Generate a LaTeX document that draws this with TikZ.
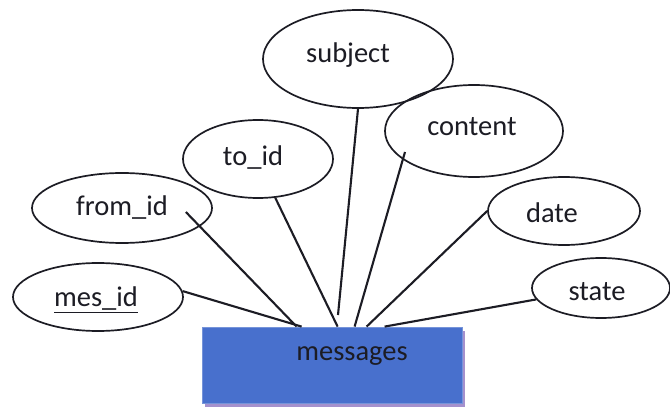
\documentclass[tikz,border=0pt]{standalone}
\usepackage{fontspec}
\setmainfont{Carlito}
\usetikzlibrary{shapes.geometric}
\definecolor{entblue}{RGB}{72,112,205}
\definecolor{entshadow}{RGB}{165,145,205}
\definecolor{ink}{RGB}{28,28,36}
\begin{document}
\begin{tikzpicture}[x=1pt,y=-1pt,
  attr/.style={draw=ink, line width=1.7pt, ellipse, inner sep=0pt},
  lbl/.style={font=\fontsize{28.5}{31}\selectfont, text=ink, inner sep=0pt},
  link/.style={draw=ink, line width=2.1pt},
  ent/.style={rectangle, fill=entblue, draw=entblue!75!white, line width=0.8pt, minimum width=260pt, minimum height=76pt, inner sep=0pt},
  entsh/.style={rectangle, fill=entshadow, minimum width=260pt, minimum height=76pt, inner sep=0pt}]
\useasboundingbox (0,0) rectangle (670,409);
\fill[white] (0,0) rectangle (670,409);
% entity
\node[entsh] (msgsh) at (335,369) {};
\node[ent] (msg) at (332,365) {};
\node[lbl] (msgtxt) at (352,356) {messages};
% attribute ellipses
\node[attr, minimum width=170pt, minimum height=68pt] (mes) at (98,297) {};
\node[attr, minimum width=180pt, minimum height=70pt] (from) at (122,208) {};
\node[attr, minimum width=150pt, minimum height=78pt] (to) at (258,159) {};
\node[attr, minimum width=190pt, minimum height=98pt] (subj) at (358,59) {};
\node[attr, minimum width=178pt, minimum height=92pt] (cont) at (474,131) {};
\node[attr, minimum width=152pt, minimum height=68pt] (date) at (564,211) {};
\node[attr, minimum width=138pt, minimum height=60pt] (state) at (601,288) {};
% labels
\node[lbl] (mestxt) at (96,300) {\underline{mes\_id}};
\node[lbl] (fromtxt) at (122,208) {from\_id};
\node[lbl] (totxt) at (253,158) {to\_id};
\node[lbl] (subjtxt) at (348,55) {subject};
\node[lbl] (conttxt) at (472,127) {content};
\node[lbl] (datetxt) at (552,213) {date};
\node[lbl] (statetxt) at (597,292) {state};
% connectors
\coordinate (subjend) at (338,315);
\draw[link] (mes.4) -- ([xshift=100pt]msg.north west);
\draw[link] ([xshift=-27pt,yshift=-4pt]from.east) -- ([xshift=95pt]msg.north west);
\draw[link] (to.-66) -- ([xshift=136pt]msg.north west);
\draw[link] (subj.south) -- (subjend);
\draw[link] ([xshift=-69pt,yshift=-21pt]cont.center) -- ([xshift=153pt]msg.north west);
\draw[link] (date.west) -- ([xshift=165pt]msg.north west);
\draw[link] (state.190) -- ([xshift=183pt]msg.north west);
\end{tikzpicture}
\end{document}
